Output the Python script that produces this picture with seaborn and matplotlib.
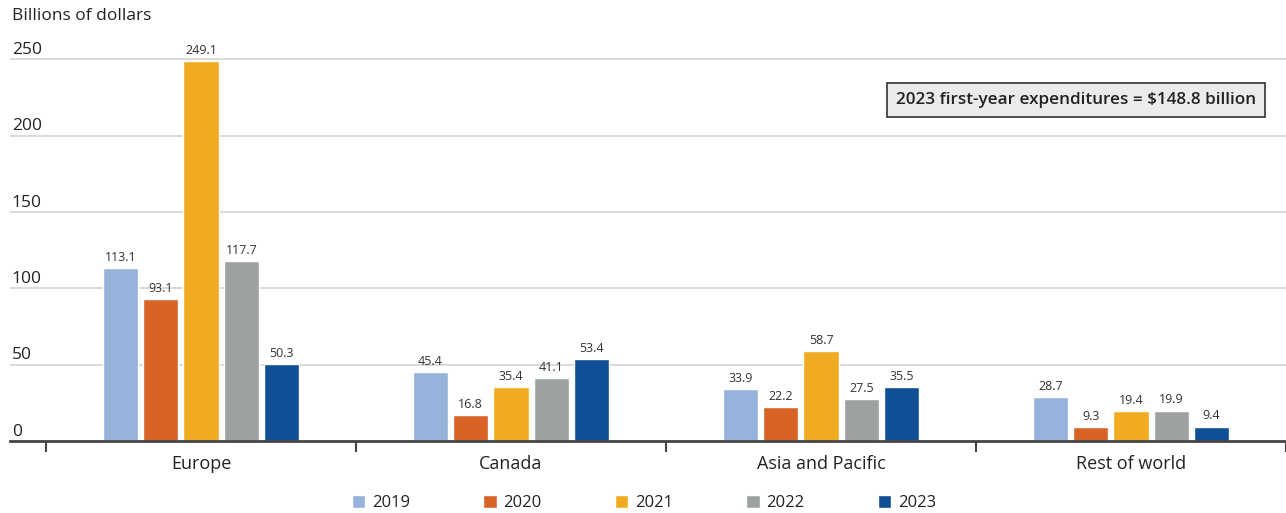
import matplotlib
matplotlib.use("Agg")
import matplotlib.pyplot as plt
import matplotlib.transforms as mtransforms
import seaborn as sns
import pandas as pd

# Spending by region and year (billions of dollars)
regions = ["Europe", "Canada", "Asia and Pacific", "Rest of world"]
years = ["2019", "2020", "2021", "2022", "2023"]
values_2019 = [113.1, 45.4, 33.9, 28.7]
values_2020 = [93.1, 16.8, 22.2, 9.3]
values_2021 = [249.1, 35.4, 58.7, 19.4]
values_2022 = [117.7, 41.1, 27.5, 19.9]
values_2023 = [50.3, 53.4, 35.5, 9.4]
y_ticks = [0, 50, 100, 150, 200, 250]
colors = ["#98b3db", "#d96327", "#f0ab20", "#9ea1a2", "#0f4f96"]
note_text = "2023 first-year expenditures = $148.8 billion"

series = [values_2019, values_2020, values_2021, values_2022, values_2023]
df = pd.DataFrame(
    [(r, y, v) for y, vals in zip(years, series) for r, v in zip(regions, vals)],
    columns=["region", "year", "value"],
)

sns.set_theme(style="white")
plt.rcParams["font.family"] = ["Open Sans", "DejaVu Sans"]

fig = plt.figure(figsize=(12.86, 5.13), dpi=100)
ax = fig.add_axes([10 / 1286, 1 - 441 / 513, 1 - 10 / 1286, (441 - 41) / 513])

sns.barplot(
    data=df, x="region", y="value", hue="year", order=regions, hue_order=years,
    palette=colors, width=0.65, gap=0.13, saturation=1, ax=ax, legend=True,
)

for cont in ax.containers:
    ax.bar_label(cont, fmt="%.1f", padding=3, fontsize=9, color="#333333")

ax.set_xlim(-0.5 - 36 / 310, 3.5)
ax.set_ylim(0, 262)

# horizontal gridlines
for t in y_ticks[1:]:
    ax.axhline(t, color="#d4d4d4", lw=1.2, zorder=0)

# y tick labels sitting above the gridlines
trans = mtransforms.blended_transform_factory(ax.transAxes, ax.transData)
offset = mtransforms.ScaledTranslation(0, 1 / 72, fig.dpi_scale_trans)
for t in y_ticks:
    ax.text(0.0015, t, str(t), transform=trans + offset, ha="left", va="bottom",
            fontsize=12.5, color="#222222")
ax.set_yticks([])

# category labels and group separator ticks
ax.set_xticks(range(len(regions)))
ax.set_xticklabels(regions, fontsize=13, color="#222222")
ax.tick_params(axis="x", which="major", length=0, pad=10)
ax.set_xticks([i - 0.5 for i in range(len(regions) + 1)], minor=True)
ax.tick_params(axis="x", which="minor", length=8, width=1.5, color="#444444",
               bottom=True)
ax.set_xlabel("")
ax.set_ylabel("")

for s in ["top", "right", "left"]:
    ax.spines[s].set_visible(False)
ax.spines["bottom"].set_color("#444444")
ax.spines["bottom"].set_linewidth(2)

fig.text(12 / 1286, 1 - 16 / 513, "Billions of dollars", ha="left", va="center",
         fontsize=12.5, color="#222222")

fig.text(1076 / 1286, 1 - 100 / 513, note_text, ha="center", va="center",
         fontsize=12.3, fontweight="semibold", color="#222222",
         bbox=dict(boxstyle="square,pad=0.5", facecolor="#ebebeb",
                   edgecolor="#333333", linewidth=1.2))

handles, labels = ax.get_legend_handles_labels()
ax.get_legend().remove()
fig.legend(handles, labels, loc="center", bbox_to_anchor=(644 / 1286, 1 - 503 / 513),
           ncol=5, frameon=False, fontsize=12, handlelength=0.8, handleheight=0.8,
           handletextpad=0.4, columnspacing=4.4, labelcolor="#222222")

fig.savefig("out.png", dpi=100)
